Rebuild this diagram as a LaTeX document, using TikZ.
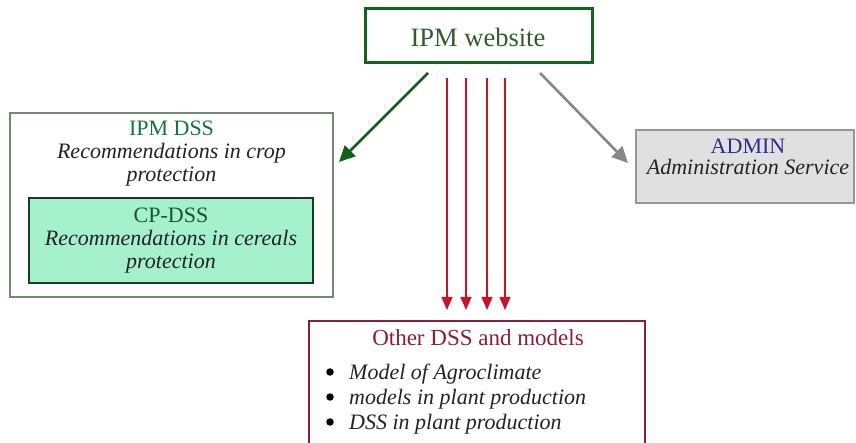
\documentclass[tikz,border=0pt]{standalone}
\usepackage{fontspec}
\setmainfont{Liberation Serif}
\usetikzlibrary{arrows.meta,calc}
\definecolor{webgreen}{RGB}{20,100,30}
\definecolor{webtext}{RGB}{45,95,45}
\definecolor{outergreen}{RGB}{110,140,110}
\definecolor{dssgreen}{RGB}{25,115,65}
\definecolor{mint}{RGB}{165,240,205}
\definecolor{innerborder}{RGB}{25,60,35}
\definecolor{cpgreen}{RGB}{25,85,45}
\definecolor{itgray}{RGB}{35,35,35}
\definecolor{admfill}{RGB}{224,224,224}
\definecolor{admborder}{RGB}{150,150,150}
\definecolor{admblue}{RGB}{45,45,140}
\definecolor{maroon}{RGB}{140,30,55}
\definecolor{redarrow}{RGB}{200,20,40}
\definecolor{greenarrow}{RGB}{20,95,30}
\definecolor{grayarrow}{RGB}{135,135,135}
\tikzset{
  boxbase/.style={rectangle, inner sep=0pt, outer sep=0pt},
  webbox/.style={boxbase, draw=webgreen, line width=3pt, minimum width=227pt, minimum height=54pt},
  outerbox/.style={boxbase, draw=outergreen, line width=1.2pt, minimum width=323pt, minimum height=184pt},
  innerbox/.style={boxbase, draw=innerborder, fill=mint, line width=2.5pt, minimum width=284pt, minimum height=85pt},
  adminbox/.style={boxbase, draw=admborder, fill=admfill, line width=1.5pt, minimum width=218pt, minimum height=73pt},
  otherbox/.style={boxbase, draw=maroon, line width=1.5pt, minimum width=336pt, minimum height=140pt},
  txt/.style={inner sep=0pt, align=center, font=\fontsize{22}{23}\selectfont},
  bulletdot/.style={circle, fill=black, inner sep=0pt, minimum size=7.5pt},
  greenarr/.style={draw=greenarrow, line width=2.6pt, -{Triangle[length=16pt,width=15pt]}},
  grayarr/.style={draw=grayarrow, line width=2.6pt, -{Triangle[length=16pt,width=15pt]}},
  redarr/.style={draw=redarrow, line width=1.2pt, -{Triangle[length=13pt,width=11pt]}},
}
\begin{document}
\begin{tikzpicture}[x=1pt,y=-1pt]
\useasboundingbox (0,0) rectangle (856,443);
% boxes
\node[webbox] (web) at (478.5,36) {};
\node[txt, text=webtext, font=\fontsize{26.5}{28}\selectfont] (webtext) at (478,37) {IPM website};

\node[outerbox] (ipmdss) at (171.5,205) {};
\node[txt] (ipmdsstext) at (171.5,154) {\textcolor{dssgreen}{IPM DSS}\\ \textcolor{itgray}{\itshape Recommendations in crop}\\ \textcolor{itgray}{\itshape protection}};

\node[innerbox] (cpdss) at (171,240.5) {};
\node[txt] (cpdsstext) at (171,241) {\textcolor{cpgreen}{CP-DSS}\\ \textcolor{itgray}{\itshape Recommendations in cereals}\\ \textcolor{itgray}{\itshape protection}};

\node[adminbox] (admin) at (745,166.5) {};
\node[txt, font=\fontsize{22}{21}\selectfont] (admintext) at (748,157) {\textcolor{admblue}{ADMIN}\\ \textcolor{itgray}{\itshape Administration Service}};

\node[otherbox, anchor=north] (other) at (477,321) {};
\node[txt, text=maroon, font=\fontsize{23}{24}\selectfont] (othertitle) at (478,338) {Other DSS and models};
\node[txt, align=left, anchor=north west, text=itgray, font=\fontsize{22}{25}\selectfont\itshape] (otheritems) at (349,364)
  {Model of Agroclimate\\ models in plant production\\ DSS in plant production};
\node[bulletdot] (bul1) at (330,372) {};
\node[bulletdot] (bul2) at (330,397) {};
\node[bulletdot] (bul3) at (330,422) {};

% connectors
\draw[greenarr] ($(web.south)+(-50.5,10)$) -- ($(ipmdss.east)+(6,-43)$);
\draw[grayarr] ($(web.south)+(61.5,10)$) -- ($(admin.west)+(-8,-3.5)$);
\foreach \dx in {-31.5,-12.5,8.5,26.5}{
  \draw[redarr] ($(web.south)+(\dx,15)$) -- ($(other.north)+(\dx+1.5,-11)$);
}
\end{tikzpicture}
\end{document}
